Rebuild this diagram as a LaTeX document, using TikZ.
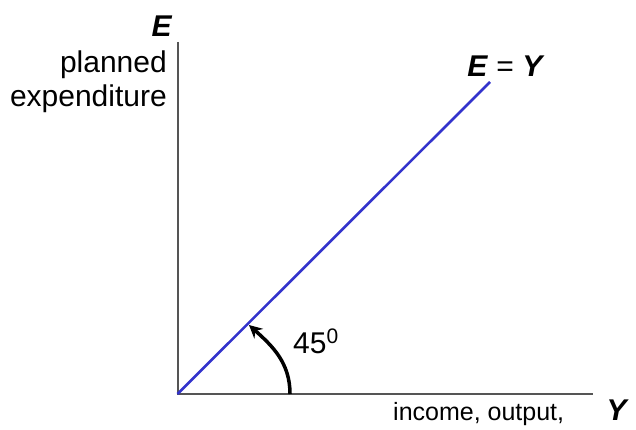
\documentclass[tikz,border=0pt]{standalone}
\usepackage{fontspec}
\setmainfont{Liberation Sans}
\usetikzlibrary{arrows.meta}
\definecolor{axisgray}{RGB}{85,85,85}
\definecolor{lineblue}{RGB}{51,51,204}
\begin{document}
\begin{tikzpicture}[x=1pt,y=-1pt,
  axis/.style={draw=axisgray,line width=2pt},
  lbl/.style={inner sep=0pt,font=\fontsize{30}{34}\selectfont},
  small/.style={inner sep=0pt,font=\fontsize{25}{29}\selectfont}]
\useasboundingbox (0,0) rectangle (636,430);
\coordinate (O) at (177.5,394);
\coordinate (ytop) at (177.5,42);
\coordinate (xend) at (593,394);
\coordinate (lend) at (490,82);
\coordinate (arcS) at (290,394);
\coordinate (arcE) at (249,325);
\draw[axis] (ytop) -- (O) -- (xend);
\draw[draw=lineblue,line width=2.6pt] (O) -- (lend);
\draw[line width=3.5pt,-{Stealth[length=13pt,width=13pt]}] (arcS) to[out=90,in=-42] (arcE);
\node[lbl,anchor=center] (E) at (162,26) {\textbf{\textit{E}}};
\node[lbl,anchor=base east] (pl) at (167,73) {planned};
\node[lbl,anchor=base east] (ex) at (167,107) {expenditure};
\node[lbl,anchor=center] (eqy) at (506,66) {\textbf{\textit{E}} = \textbf{\textit{Y}}};
\node[lbl,anchor=base west] (ang) at (293,353) {45\textsuperscript{0}};
\node[small,anchor=base west] (inc) at (393,420) {income, output,};
\node[lbl,anchor=base east] (yl) at (629,420) {\textbf{\textit{Y}}};
\end{tikzpicture}
\end{document}
